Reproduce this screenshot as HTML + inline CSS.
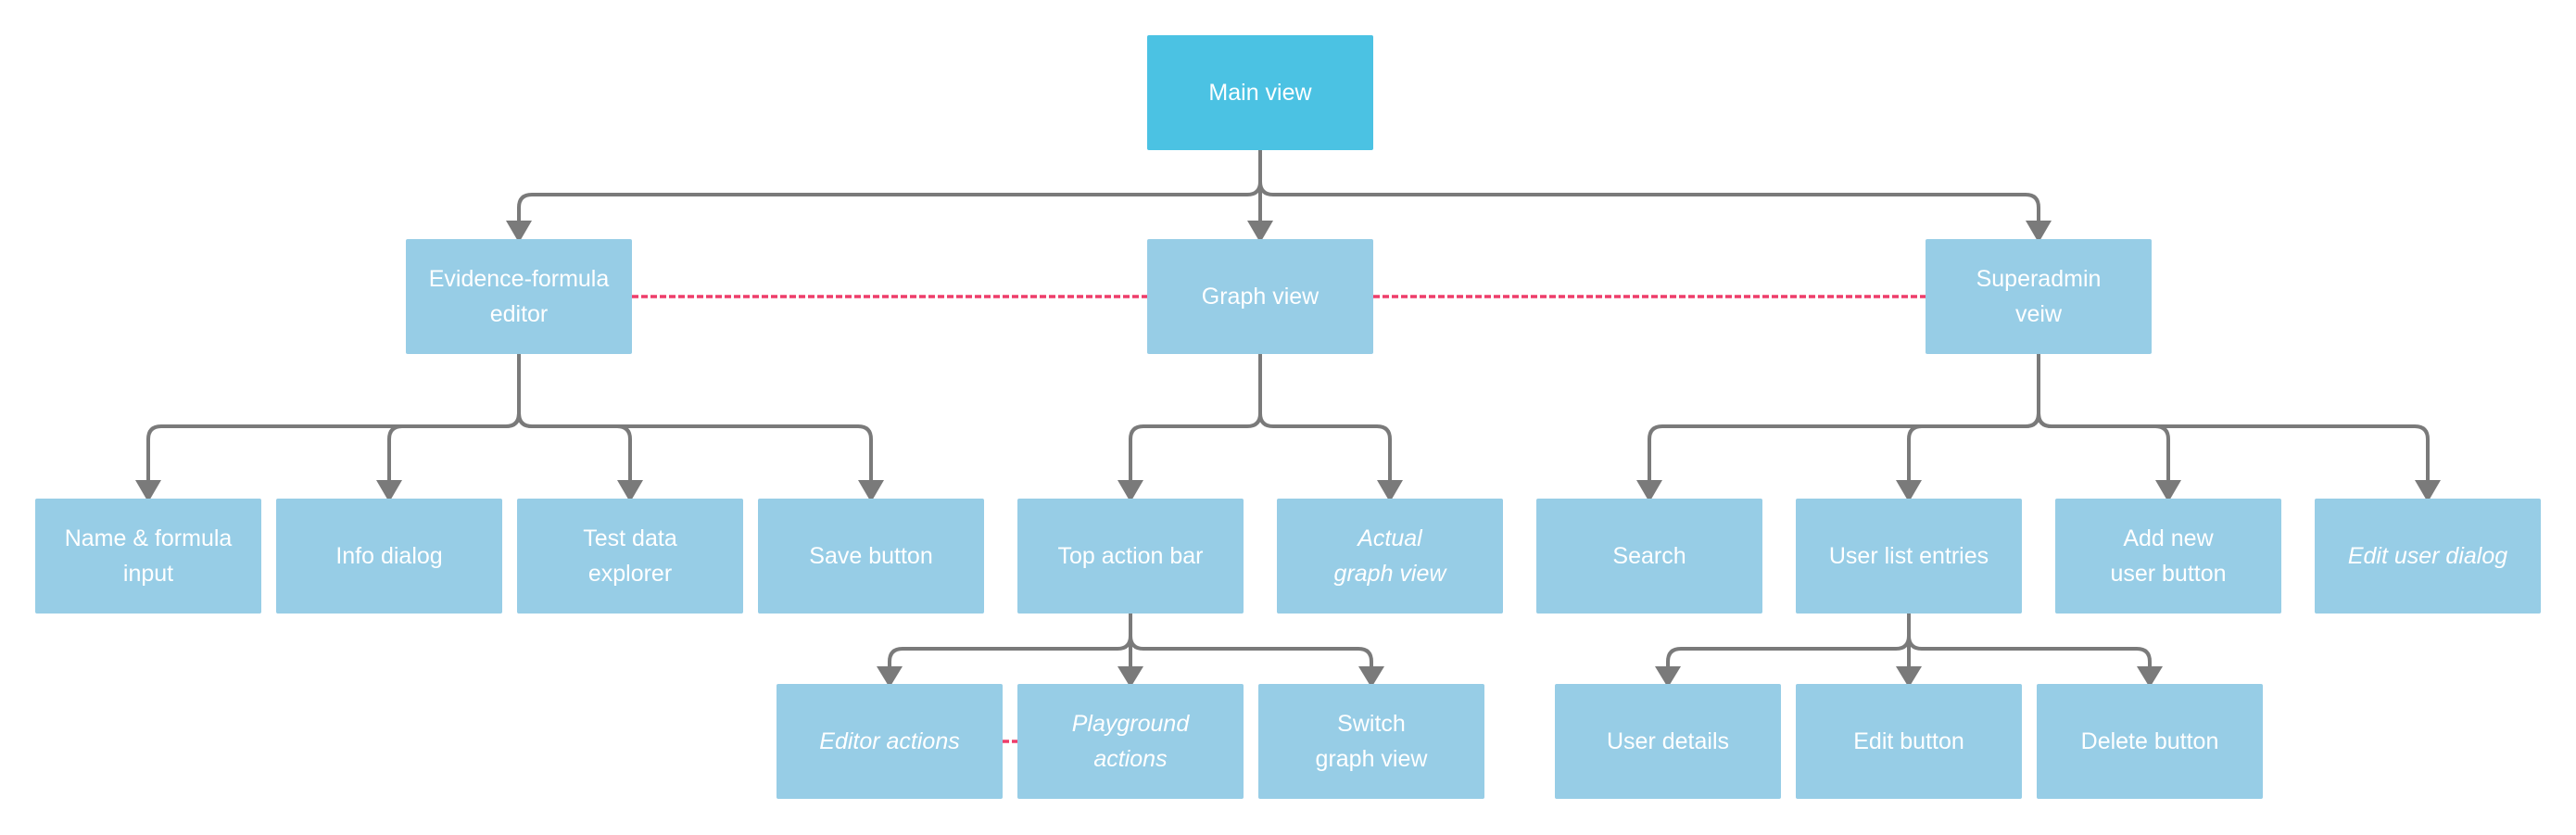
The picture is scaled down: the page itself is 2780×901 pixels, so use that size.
<!DOCTYPE html>
<html><head><meta charset="utf-8"><style>
html,body{margin:0;padding:0;background:#fff;}
body{width:2780px;height:901px;position:relative;overflow:hidden;font-family:"Liberation Sans",sans-serif;}
.b{position:absolute;width:244px;background:#97cde6;color:#fff;display:flex;align-items:center;justify-content:center;text-align:center;font-size:25px;line-height:38px;border-radius:2px;}
.m{background:#4bc2e3;}
.i{font-style:italic;}
.l2{top:258px;height:124px;}
.l3{top:538px;height:124px;}
.l4{top:738px;height:124px;}
svg{position:absolute;left:0;top:0;}
</style></head><body>
<svg width="2780" height="901">
<g fill="none" stroke="#7a7a7a" stroke-width="4">
<path d="M1360 162 V196 Q1360 210 1346 210 H574 Q560 210 560 224 V240"/>
<path d="M1360 162 V240"/>
<path d="M1360 162 V196 Q1360 210 1374 210 H2186 Q2200 210 2200 224 V240"/>
<path d="M560 382 V446 Q560 460 546 460 H174 Q160 460 160 474 V520"/>
<path d="M560 382 V446 Q560 460 546 460 H434 Q420 460 420 474 V520"/>
<path d="M560 382 V446 Q560 460 574 460 H666 Q680 460 680 474 V520"/>
<path d="M560 382 V446 Q560 460 574 460 H926 Q940 460 940 474 V520"/>
<path d="M1360 382 V446 Q1360 460 1346 460 H1234 Q1220 460 1220 474 V520"/>
<path d="M1360 382 V446 Q1360 460 1374 460 H1486 Q1500 460 1500 474 V520"/>
<path d="M2200 382 V446 Q2200 460 2186 460 H1794 Q1780 460 1780 474 V520"/>
<path d="M2200 382 V446 Q2200 460 2186 460 H2074 Q2060 460 2060 474 V520"/>
<path d="M2200 382 V446 Q2200 460 2214 460 H2326 Q2340 460 2340 474 V520"/>
<path d="M2200 382 V446 Q2200 460 2214 460 H2606 Q2620 460 2620 474 V520"/>
<path d="M1220 662 V686 Q1220 700 1206 700 H974 Q960 700 960 714 V722"/>
<path d="M1220 662 V722"/>
<path d="M1220 662 V686 Q1220 700 1234 700 H1466 Q1480 700 1480 714 V722"/>
<path d="M2060 662 V686 Q2060 700 2046 700 H1814 Q1800 700 1800 714 V722"/>
<path d="M2060 662 V722"/>
<path d="M2060 662 V686 Q2060 700 2074 700 H2306 Q2320 700 2320 714 V722"/>
</g>
<g fill="#7a7a7a">
<polygon points="546,238 574,238 560,262"/>
<polygon points="1346,238 1374,238 1360,262"/>
<polygon points="2186,238 2214,238 2200,262"/>
<polygon points="146,518 174,518 160,542"/>
<polygon points="406,518 434,518 420,542"/>
<polygon points="666,518 694,518 680,542"/>
<polygon points="926,518 954,518 940,542"/>
<polygon points="1206,518 1234,518 1220,542"/>
<polygon points="1486,518 1514,518 1500,542"/>
<polygon points="1766,518 1794,518 1780,542"/>
<polygon points="2046,518 2074,518 2060,542"/>
<polygon points="2326,518 2354,518 2340,542"/>
<polygon points="2606,518 2634,518 2620,542"/>
<polygon points="946,719 974,719 960,742"/>
<polygon points="1206,719 1234,719 1220,742"/>
<polygon points="1466,719 1494,719 1480,742"/>
<polygon points="1786,719 1814,719 1800,742"/>
<polygon points="2046,719 2074,719 2060,742"/>
<polygon points="2306,719 2334,719 2320,742"/>
</g>
<g stroke="#ee3d6a" stroke-width="3.5" stroke-dasharray="7,3" fill="none">
<path d="M682 320 H1238"/>
<path d="M1482 320 H2078"/>
<path d="M1082 800 H1098"/>
</g>
</svg>
<div class="b m" style="left:1238px;top:38px;height:124px;">Main view</div>
<div class="b l2" style="left:438px;">Evidence-formula<br>editor</div>
<div class="b l2" style="left:1238px;">Graph view</div>
<div class="b l2" style="left:2078px;">Superadmin<br>veiw</div>
<div class="b l3" style="left:38px;">Name &amp; formula<br>input</div>
<div class="b l3" style="left:298px;">Info dialog</div>
<div class="b l3" style="left:558px;">Test data<br>explorer</div>
<div class="b l3" style="left:818px;">Save button</div>
<div class="b l3" style="left:1098px;">Top action bar</div>
<div class="b l3 i" style="left:1378px;">Actual<br>graph view</div>
<div class="b l3" style="left:1658px;">Search</div>
<div class="b l3" style="left:1938px;">User list entries</div>
<div class="b l3" style="left:2218px;">Add new<br>user button</div>
<div class="b l3 i" style="left:2498px;">Edit user dialog</div>
<div class="b l4 i" style="left:838px;">Editor actions</div>
<div class="b l4 i" style="left:1098px;">Playground<br>actions</div>
<div class="b l4" style="left:1358px;">Switch<br>graph view</div>
<div class="b l4" style="left:1678px;">User details</div>
<div class="b l4" style="left:1938px;">Edit button</div>
<div class="b l4" style="left:2198px;">Delete button</div>
</body></html>
